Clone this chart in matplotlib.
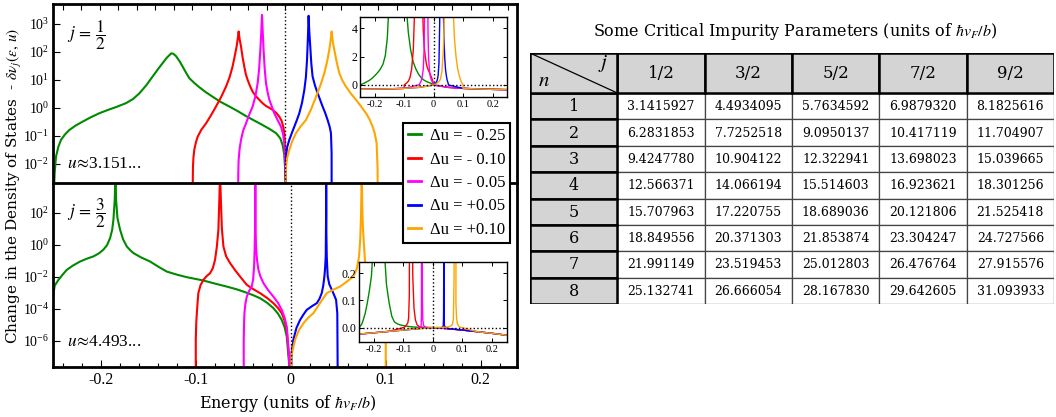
import numpy as np
import matplotlib.pyplot as plt
from matplotlib.lines import Line2D
from matplotlib.patches import Rectangle
from matplotlib.ticker import MultipleLocator, FixedLocator, NullLocator, FuncFormatter

plt.rcParams['mathtext.fontset'] = 'stix'
plt.rcParams['font.family'] = ['Liberation Serif', 'DejaVu Serif']
plt.rcParams['axes.unicode_minus'] = False

greenColor = "#008a00"
redColor = "#ff0000"
magentaColor = "#ff00ff"
blueColor = "#0000ff"
orangeColor = "#ffa500"

labels = ['\u0394u = - 0.25', '\u0394u = - 0.10', '\u0394u = - 0.05',
          '\u0394u = +0.05', '\u0394u = +0.10']
colors = [greenColor, redColor, magentaColor, blueColor, orangeColor]

# j = 1/2 : energy and log10(-delta nu) for each shift of u
j12_green_e = [-0.25, -0.2485, -0.2471, -0.2445, -0.2417, -0.2375, -0.2328, -0.2260, -0.2184,
               -0.2100, -0.2004, -0.1910, -0.1824, -0.1717, -0.1640, -0.1573, -0.150,
               -0.143, -0.1375, -0.1322, -0.1275, -0.1228, -0.1205, -0.1178, -0.1140, -0.1107,
               -0.1070, -0.1034, -0.0980, -0.0927, -0.0860, -0.0783, -0.0700, -0.0603,
               -0.0510, -0.0424, -0.0335, -0.0245, -0.0170, -0.010, -0.0055, -0.0029, -0.0012,
               -0.0003, 0.0]
j12_green_lg = [-3.5, -2.30, -1.74, -1.38, -1.14, -0.95, -0.79, -0.63, -0.49,
                -0.34, -0.19, -0.07, 0.03, 0.17, 0.32, 0.52, 0.80,
                1.12, 1.37, 1.60, 1.80, 1.95, 1.93, 1.85, 1.67, 1.48,
                1.26, 1.06, 0.89, 0.74, 0.57, 0.40, 0.22, 0.05,
                -0.12, -0.29, -0.45, -0.61, -0.75, -0.90, -1.08, -1.32, -1.65,
                -2.10, -9.0]
j12_red_e = [-0.0999, -0.0997, -0.0995, -0.0990, -0.0981, -0.0965, -0.0945, -0.0905, -0.0854,
             -0.0800, -0.0747, -0.0690, -0.0639, -0.0600, -0.0568, -0.0545, -0.0525, -0.0512,
             -0.0503, -0.0492, -0.0477, -0.0460, -0.0442, -0.0425, -0.0406, -0.0380, -0.0352,
             -0.0318, -0.028, -0.0245, -0.0208, -0.0170, -0.0137, -0.0100, -0.0065, -0.0040,
             -0.0022, -0.0010, -0.0003, 0.0]
j12_red_lg = [-9.0, -2.60, -2.10, -1.78, -1.50, -1.25, -1.03, -0.78, -0.55,
              -0.26, 0.05, 0.40, 0.76, 1.10, 1.48, 1.85, 2.19, 2.48,
              2.73, 2.45, 2.19, 1.80, 1.48, 1.20, 1.00, 0.78, 0.58,
              0.42, 0.29, 0.17, 0.07, 0.00, -0.07, -0.17, -0.31, -0.46,
              -0.67, -0.92, -1.26, -9.0]
j12_mag_e = [-0.0510, -0.0507, -0.0503, -0.0492, -0.0477, -0.0455, -0.0423, -0.0390, -0.0352,
             -0.0322, -0.0298, -0.0282, -0.0269, -0.0259, -0.0251, -0.0243, -0.0234, -0.0222,
             -0.0208, -0.0190, -0.0172, -0.0145, -0.0119, -0.0085, -0.0046, -0.0025, -0.0011,
             -0.0003, 0.0]
j12_mag_lg = [-9.0, -2.40, -1.86, -1.45, -1.14, -0.82, -0.55, -0.25, 0.05,
              0.42, 0.88, 1.40, 2.07, 2.70, 3.32, 2.70, 2.07, 1.40,
              0.88, 0.55, 0.29, 0.05, -0.19, -0.42, -0.67, -0.92, -1.26,
              -1.80, -9.0]
j12_blue_e = [0.0, 0.0003, 0.0008, 0.0020, 0.0043, 0.0070, 0.0097, 0.0125, 0.0151, 0.0180,
              0.0205, 0.0222, 0.0234, 0.0243, 0.0251, 0.0259, 0.0269, 0.0280, 0.0294, 0.0320,
              0.0348, 0.0375, 0.0402, 0.0430, 0.0456, 0.0478, 0.0492, 0.0499, 0.0500]
j12_blue_lg = [-9.0, -2.30, -1.74, -1.40, -1.14, -0.90, -0.67, -0.43, -0.19, 0.18,
               0.64, 1.10, 1.71, 2.45, 3.29, 2.70, 2.19, 1.60, 1.12, 0.80,
               0.53, 0.29, 0.05, -0.18, -0.43, -0.67, -0.90, -1.62, -9.0]
j12_orange_e = [0.0, 0.0003, 0.0008, 0.0020, 0.0043, 0.0075, 0.0115, 0.0165, 0.0223, 0.0280,
                0.0331, 0.0380, 0.042, 0.0450, 0.0474, 0.0488, 0.0499, 0.0510, 0.0528, 0.0555,
                0.0582, 0.0615, 0.0654, 0.0705, 0.0762, 0.0815, 0.087, 0.0910, 0.0941, 0.0965,
                0.0984, 0.0995, 0.0997]
j12_orange_lg = [-9.0, -2.60, -2.10, -1.78, -1.50, -1.18, -0.90, -0.66, -0.43, -0.03,
                 0.40, 0.82, 1.24, 1.65, 2.07, 2.40, 2.73, 2.40, 2.07, 1.62,
                 1.24, 0.98, 0.76, 0.52, 0.29, 0.06, -0.19, -0.42, -0.67, -0.92,
                 -1.26, -2.20, -9.0]

# j = 3/2
j32_green_e = [-0.25, -0.2485, -0.2446, -0.2400, -0.2358, -0.2290, -0.2218, -0.2150, -0.2078,
               -0.2020, -0.1973, -0.1935, -0.1902, -0.1880, -0.1867, -0.1853,
               -0.1846, -0.1839, -0.1825, -0.1797, -0.1765, -0.1726, -0.1690, -0.1657,
               -0.1570, -0.1481, -0.1390, -0.1305, -0.1200, -0.1095, -0.092,
               -0.0800, -0.0674, -0.0570, -0.0481, -0.0400, -0.0323, -0.0250, -0.0183,
               -0.0135, -0.0095, -0.0065, -0.0042, -0.0021, 0.0]
j32_green_lg = [-3.1, -2.55, -2.19, -1.85, -1.56, -1.28, -1.04, -0.87, -0.72,
                -0.53, -0.30, -0.02, 0.43, 0.95, 1.58, 2.84,
                4.5, 2.84, 1.70, 0.95, 0.35, -0.10, -0.33, -0.51,
                -0.80, -1.04, -1.38, -1.67, -1.86, -2.02, -2.23,
                -2.42, -2.61, -2.78, -2.96, -3.14, -3.34, -3.62, -3.96,
                -4.30, -4.70, -5.15, -5.75, -7.2, -9.0]
j32_red_e = [-0.1, -0.1, -0.0995, -0.0989, -0.0980, -0.0973, -0.0950, -0.092, -0.0885, -0.0849,
             -0.0820, -0.0797, -0.0778, -0.0762, -0.0752, -0.0744,
             -0.0736, -0.0725, -0.0709, -0.0680, -0.0639, -0.0590, -0.0534, -0.0463, -0.0400,
             -0.0323, -0.0250, -0.0183, -0.0135, -0.0095, -0.0065, -0.0042, -0.0021, 0.0]
j32_red_lg = [-9.0, -5.95, -4.90, -4.28, -3.55, -3.02, -2.52, -2.19, -1.95, -1.77,
              -1.45, -0.93, -0.10, 0.95, 2.84, 4.5,
              2.84, 1.00, -0.10, -0.72, -1.14, -1.55, -1.98, -2.50, -2.75,
              -3.02, -3.32, -3.65, -3.95, -4.28, -4.75, -5.33, -6.79, -9.0]
j32_mag_e = [-0.0495, -0.0495, -0.0492, -0.0488, -0.0478, -0.0463, -0.0440, -0.0411, -0.0396,
             -0.0386, -0.0380, -0.0376, -0.0373, -0.0370, -0.0365, -0.0355,
             -0.0341, -0.0318, -0.0288, -0.0240, -0.0183, -0.0135, -0.0095, -0.0065,
             -0.0042, -0.0021, 0.0]
j32_mag_lg = [-9.0, -5.95, -5.00, -4.28, -3.70, -3.24, -2.90, -2.61, -2.15,
              -1.35, -0.20, 0.95, 4.5, 0.95, -0.20, -0.95,
              -1.55, -2.00, -2.39, -2.82, -3.24, -3.62, -4.07, -4.55,
              -5.12, -6.79, -9.0]
j32_blue_e = [0.0, 0.0008, 0.0027, 0.0060, 0.0098, 0.0135, 0.0168, 0.0220, 0.0274, 0.0302,
              0.0326, 0.0342, 0.0354, 0.0362, 0.0368, 0.0372, 0.0373, 0.0375, 0.0379, 0.0384,
              0.0389, 0.0405, 0.0432, 0.0455, 0.0477, 0.049, 0.0495]
j32_blue_lg = [-9.0, -6.8, -5.95, -5.20, -4.70, -4.35, -4.07, -3.85, -3.65, -3.38,
               -3.02, -2.55, -1.98, -1.40, -0.72, 2.0, 4.5, 0.80, -0.72, -1.40,
               -1.98, -2.45, -2.81, -3.12, -3.44, -4.28, -9.0]
j32_orange_e = [0.0, 0.0008, 0.0045, 0.0085, 0.0133, 0.0185, 0.0238, 0.0310, 0.0379, 0.0450,
                0.0519, 0.0590, 0.0659, 0.0695, 0.0719, 0.0732, 0.074, 0.0747, 0.0754,
                0.0761, 0.0782, 0.0805, 0.0835, 0.0880, 0.0919, 0.0950, 0.0972, 0.0993, 0.1, 0.1]
j32_orange_lg = [-9.0, -6.9, -5.95, -5.35, -4.91, -4.55, -4.28, -3.62, -3.02, -2.80,
                 -2.61, -2.30, -1.98, -1.50, -0.72, 0.40, 2.0, 4.5, 2.0,
                 0.95, -1.06, -1.50, -1.87, -2.35, -2.81, -3.12, -3.44, -4.38, -5.95, -9.0]

# values outside the band, shown in the linear insets
tail_e = [-0.25, -0.2, -0.15, -0.1, -0.05, 0.0, 0.05, 0.1, 0.15, 0.2, 0.25]
tail_j12 = [-0.30, -0.29, -0.27, -0.24, -0.17, 0.0, -0.17, -0.24, -0.28, -0.31, -0.33]
tail_j32 = [-0.024, -0.019, -0.014, -0.009, -0.004, 0.0, -0.004, -0.009, -0.015, -0.021, -0.028]

# critical impurity parameters u_{n,j}
col_labels = ['1/2', '3/2', '5/2', '7/2', '9/2']
row_labels = ['1', '2', '3', '4', '5', '6', '7', '8']
u_j12 = ['3.1415927', '6.2831853', '9.4247780', '12.566371', '15.707963', '18.849556', '21.991149', '25.132741']
u_j32 = ['4.4934095', '7.7252518', '10.904122', '14.066194', '17.220755', '20.371303', '23.519453', '26.666054']
u_j52 = ['5.7634592', '9.0950137', '12.322941', '15.514603', '18.689036', '21.853874', '25.012803', '28.167830']
u_j72 = ['6.9879320', '10.417119', '13.698023', '16.923621', '20.121806', '23.304247', '26.476764', '29.642605']
u_j92 = ['8.1825616', '11.704907', '15.039665', '18.301256', '21.525418', '24.727566', '27.915576', '31.093933']

j12 = [(j12_green_e, j12_green_lg), (j12_red_e, j12_red_lg), (j12_mag_e, j12_mag_lg),
       (j12_blue_e, j12_blue_lg), (j12_orange_e, j12_orange_lg)]
j32 = [(j32_green_e, j32_green_lg), (j32_red_e, j32_red_lg), (j32_mag_e, j32_mag_lg),
       (j32_blue_e, j32_blue_lg), (j32_orange_e, j32_orange_lg)]

W, H = 1056.0, 417.0
labelFont = 'DejaVu Serif'


def fig_box(x0, y0, x1, y1):
    # pixel box (top-left origin) -> figure fraction rect
    return [x0 / W, 1 - y1 / H, (x1 - x0) / W, (y1 - y0) / H]


def with_tails(e, lg, te, tv):
    e = np.asarray(e)
    v = 10.0 ** np.asarray(lg)
    te = np.asarray(te)
    tv = np.asarray(tv)
    left = te < e[0] - 1e-6
    right = te > e[-1] + 1e-6
    return np.concatenate([te[left], e, te[right]]), np.concatenate([tv[left], v, tv[right]])


def style_main(ax):
    for s in ax.spines.values():
        s.set_linewidth(2.0)
    ax.set_yscale('log')
    ax.yaxis.set_minor_locator(NullLocator())
    ax.xaxis.set_major_locator(MultipleLocator(0.1))
    ax.xaxis.set_minor_locator(MultipleLocator(0.02))
    ax.tick_params(which='both', direction='in', width=0.8, right=False)
    ax.tick_params(which='major', length=5)
    ax.tick_params(which='minor', length=3)
    ax.tick_params(axis='y', labelsize=10, pad=3)


def style_inset(ax, ylim, yticks, yfmt):
    ax.set_xlim(-0.25, 0.25)
    ax.set_ylim(*ylim)
    ax.xaxis.set_major_locator(FixedLocator([-0.2, -0.1, 0.0, 0.1, 0.2]))
    ax.xaxis.set_major_formatter(FuncFormatter(lambda v, p: '0' if abs(v) < 1e-9 else '%g' % v))
    ax.yaxis.set_major_locator(FixedLocator(yticks))
    ax.yaxis.set_major_formatter(FuncFormatter(lambda v, p: yfmt % v))
    ax.tick_params(direction='in', length=3, width=0.7, top=True, right=True, pad=2)
    ax.tick_params(axis='x', labelsize=7.5)
    ax.tick_params(axis='y', labelsize=8.5)
    for s in ax.spines.values():
        s.set_linewidth(1.0)
    ax.axhline(0, color='k', ls=':', lw=1.0)
    ax.axvline(0, color='k', ls=':', lw=1.0)


fig = plt.figure(figsize=(10.56, 4.17), dpi=100, facecolor='w')

ax1 = fig.add_axes(fig_box(53.3, 4, 517.3, 183))
ax2 = fig.add_axes(fig_box(53.3, 183, 517.3, 366.7))

for (e, lg), c in zip(j12, colors):
    ax1.plot(e, 10.0 ** np.asarray(lg), color=c, lw=1.5)
for (e, lg), c in zip(j32, colors):
    ax2.plot(e, 10.0 ** np.asarray(lg), color=c, lw=1.5)

style_main(ax1)
ax1.set_xlim(-0.25, 0.25)
ax1.set_ylim(10 ** -2.68, 10 ** 3.71)
ax1.yaxis.set_major_locator(FixedLocator([1e-2, 1e-1, 1e0, 1e1, 1e2, 1e3]))
ax1.tick_params(axis='x', which='both', bottom=False, top=True, labelbottom=False, length=4)
ax1.axvline(0, color='k', ls=':', lw=1.0)
ax1.spines['bottom'].set_visible(False)

style_main(ax2)
ax2.set_xlim(-0.25, 0.2385)
ax2.set_ylim(10 ** -7.63, 10 ** 3.88)
ax2.yaxis.set_major_locator(FixedLocator([1e-6, 1e-4, 1e-2, 1e0, 1e2]))
ax2.xaxis.set_major_formatter(FuncFormatter(lambda v, p: '0' if abs(v) < 1e-9 else '%g' % v))
ax2.tick_params(axis='x', labelsize=11.5, pad=4)
ax2.axvline(0, color='k', ls=':', lw=1.0)

ax1.text(0.029, 0.827, r'$j\,=\,\dfrac{1}{2}$', transform=ax1.transAxes, fontsize=12.5, va='center')
ax1.text(0.029, 0.106, r'$u\!\approx\!$3.151...', transform=ax1.transAxes, fontsize=12.5, va='center')
ax2.text(0.029, 0.837, r'$j\,=\,\dfrac{3}{2}$', transform=ax2.transAxes, fontsize=12.5, va='center')
ax2.text(0.029, 0.134, r'$u\!\approx\!$4.493...', transform=ax2.transAxes, fontsize=12.5, va='center')

# linear-scale insets
ins1 = fig.add_axes(fig_box(360, 17.3, 507.3, 97.3))
for (e, lg), c in zip(j12, colors):
    x, y = with_tails(e, lg, tail_e, tail_j12)
    ins1.plot(x, y, color=c, lw=1.0)
style_inset(ins1, (-0.87, 4.78), [0, 2, 4], '%g')

ins2 = fig.add_axes(fig_box(359, 262.3, 506.7, 342.3))
for (e, lg), c in zip(j32, colors):
    x, y = with_tails(e, lg, tail_e, tail_j32)
    ins2.plot(x, y, color=c, lw=1.0)
style_inset(ins2, (-0.054, 0.24), [0.0, 0.1, 0.2], '%.1f')

handles = [Line2D([], [], color=c, lw=2) for c in colors]
leg = fig.legend(handles, labels, loc='upper left', bbox_to_anchor=(403 / W, 1 - 123 / H),
                 frameon=True, fancybox=False, edgecolor='k', framealpha=1,
                 handlelength=0.75, handletextpad=0.55, labelspacing=0.45, borderpad=0.3,
                 borderaxespad=0, prop={'family': 'Liberation Serif', 'size': 12})
leg.get_frame().set_linewidth(1.5)

fig.text(287.5 / W, 1 - 403 / H, r'Energy (units of $\hbar v_F/b$)', family=labelFont,
         fontsize=11.5, ha='center', va='center')
fig.text(15 / W, 1 - 186 / H, r'Change in the Density of States  - $\delta\nu_j(\varepsilon,\,u)$',
         family=labelFont, fontsize=11, rotation=90, ha='center', va='center')

# table of critical parameters
tab = fig.add_axes(fig_box(530, 53, 1054, 304))
tab.set_xlim(0, 524)
tab.set_ylim(251, 0)
tab.axis('off')
cw, hh, rh = 524 / 6.0, 40.0, 211.0 / 8
columns = [u_j12, u_j32, u_j52, u_j72, u_j92]
gray = '#d4d4d4'

for i, vals in enumerate(columns):
    x0 = cw * (i + 1)
    for r, v in enumerate(vals):
        y0 = hh + rh * r
        tab.add_patch(Rectangle((x0, y0), cw, rh, facecolor='w', edgecolor='#444444', lw=0.9))
        tab.text(x0 + cw / 2, y0 + rh / 2 + 0.5, v, family=labelFont, fontsize=9,
                 ha='center', va='center')
for r, lab in enumerate(row_labels):
    y0 = hh + rh * r
    tab.add_patch(Rectangle((0, y0), cw, rh, facecolor=gray, edgecolor='k', lw=1.8, zorder=3))
    tab.text(cw / 2, y0 + rh / 2 + 0.5, lab, family=labelFont, fontsize=11.5,
             ha='center', va='center', zorder=4)
for i, lab in enumerate(col_labels):
    x0 = cw * (i + 1)
    tab.add_patch(Rectangle((x0, 0), cw, hh, facecolor=gray, edgecolor='k', lw=1.8, zorder=3))
    tab.text(x0 + cw / 2, hh / 2, lab, family=labelFont, fontsize=12,
             ha='center', va='center', zorder=4)
tab.add_patch(Rectangle((0, 0), cw, hh, facecolor=gray, edgecolor='k', lw=1.8, zorder=3))
tab.plot([0, cw], [0, hh], color='k', lw=0.9, zorder=4)
tab.text(14, 29, r'$n$', fontsize=15, ha='center', va='center', zorder=4)
tab.text(cw - 14, 11, r'$j$', fontsize=15, ha='center', va='center', zorder=4)

fig.text(795 / W, 1 - 32 / H, r'Some Critical Impurity Parameters (units of $\hbar v_F/b$)',
         family=labelFont, fontsize=11.5, ha='center', va='center')

fig.savefig('out.png', dpi=100, facecolor='w')
